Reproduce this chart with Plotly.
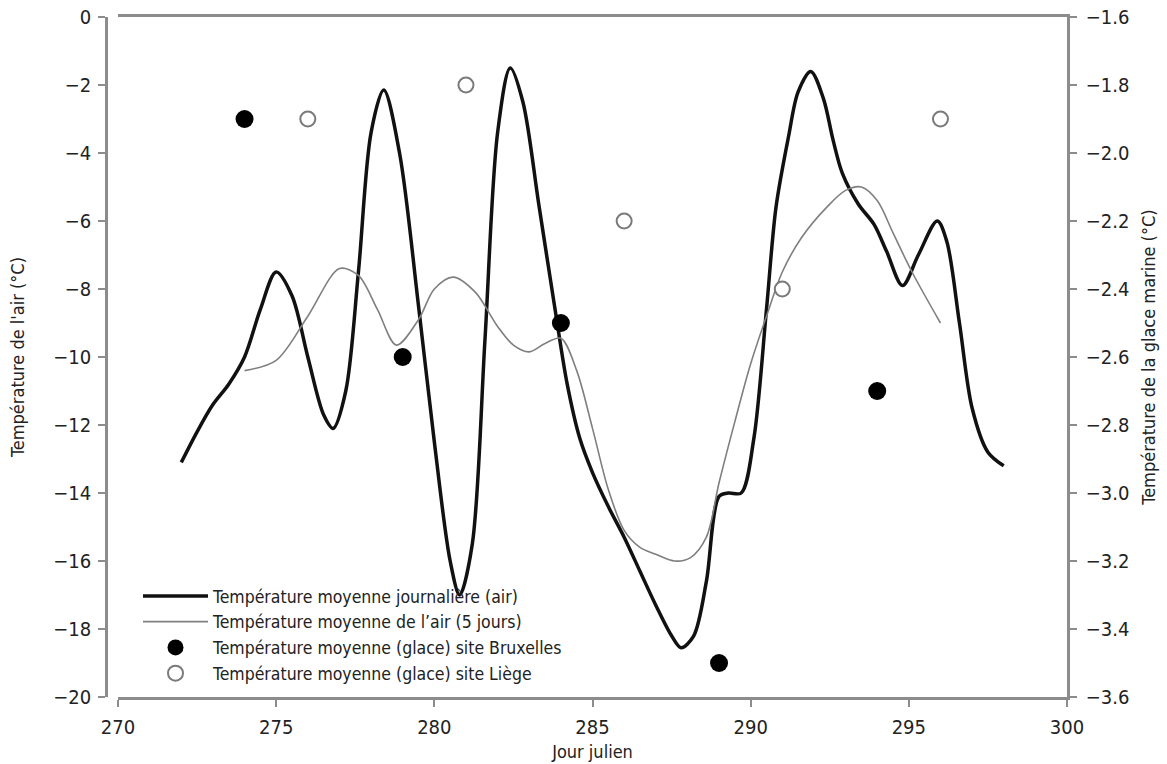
import plotly.graph_objects as go

# --- Data -------------------------------------------------------------
# Daily mean air temperature (left axis, °C)
daily_days = [272, 272.5, 273, 273.5, 274, 274.5, 275, 275.5, 276, 276.5, 276.8,
              277.2, 277.6, 278.0, 278.4, 278.9, 279.5, 280.0, 280.5, 280.8,
              281.2, 281.6, 282.0, 282.4, 282.8, 283.3, 283.8, 284.2, 284.6,
              285.0, 285.5, 286.0, 286.5, 287.0, 287.5, 287.8, 288.2, 288.6,
              289.0, 289.3, 289.7, 290.1, 290.5, 290.8, 291.2, 291.5, 291.9,
              292.3, 292.6, 292.9, 293.4, 293.9, 294.3, 294.8, 295.3, 295.9,
              296.2, 296.6, 297.0, 297.5, 298.0]
daily_temp = [-13.1, -12.2, -11.4, -10.8, -10.0, -8.6, -7.5, -8.2, -10.0, -11.7, -12.1,
              -11.0, -7.5, -3.4, -2.15, -4.0, -8.5, -12.5, -16.0, -17.0,
              -15.5, -9.5, -3.4, -1.5, -2.5, -5.5, -8.5, -10.8, -12.4,
              -13.4, -14.4, -15.3, -16.3, -17.3, -18.2, -18.55, -18.2, -16.6,
              -14.1, -14.0, -14.0, -12.4, -8.6, -5.6, -3.5, -2.2, -1.6,
              -2.4, -3.6, -4.6, -5.5, -6.1, -6.9, -7.9, -7.0, -6.0,
              -6.6, -9.0, -11.5, -12.8, -13.2]

# 5-day mean air temperature (left axis, °C)
mean5_days = [274, 275, 276, 277, 277.6, 278.2, 278.8, 279.5, 280.0, 280.6,
              281.3, 282.0, 282.5, 283.0, 283.5, 284.0, 284.5, 285.0, 285.5,
              286.0, 286.5, 287.0, 287.6, 288.1, 288.6, 289.0, 289.5, 290.0,
              290.5, 291.0, 291.6, 292.4, 293.0, 293.5, 294.0, 294.5, 295.1, 296.0]
mean5_temp = [-10.4, -10.1, -8.8, -7.4, -7.6, -8.6, -9.65, -8.9, -8.0, -7.65,
              -8.1, -9.1, -9.65, -9.85, -9.6, -9.45, -10.4, -12.1, -13.9,
              -15.1, -15.6, -15.8, -16.0, -15.9, -15.3, -13.7, -11.9, -10.2,
              -8.8, -7.5, -6.5, -5.6, -5.1, -5.0, -5.4, -6.35, -7.5, -9.0]

# Mean sea-ice temperature (right axis, °C)
bxl_days = [274, 279, 284, 289, 294]
bxl_temp = [-1.9, -2.6, -2.5, -3.5, -2.7]
liege_days = [276, 281, 286, 291, 296]
liege_temp = [-1.9, -1.8, -2.2, -2.4, -1.9]

x_ticks = [270, 275, 280, 285, 290, 295, 300]
y_left_ticks = [0, -2, -4, -6, -8, -10, -12, -14, -16, -18, -20]
y_right_ticks = [-1.6, -1.8, -2.0, -2.2, -2.4, -2.6, -2.8, -3.0, -3.2, -3.4, -3.6]

# --- Figure -----------------------------------------------------------
FONT = "Liberation Sans Narrow, DejaVu Sans Condensed, Arial Narrow, sans-serif"
AXIS_GREY = "#8c8c8c"
TEXT = "#222222"

fig = go.Figure()
fig.add_trace(go.Scatter(
    x=daily_days, y=daily_temp, mode="lines",
    line=dict(color="#111111", width=3.5, shape="spline", smoothing=0.9),
    name="Température moyenne journalière (air)", yaxis="y"))
fig.add_trace(go.Scatter(
    x=mean5_days, y=mean5_temp, mode="lines",
    line=dict(color="#7f7f7f", width=1.6, shape="spline", smoothing=0.9),
    name="Température moyenne de l’air (5 jours)", yaxis="y"))
fig.add_trace(go.Scatter(
    x=bxl_days, y=bxl_temp, mode="markers",
    marker=dict(color="#000000", size=18, line=dict(width=0)),
    name="Température moyenne (glace) site Bruxelles", yaxis="y2"))
fig.add_trace(go.Scatter(
    x=liege_days, y=liege_temp, mode="markers",
    marker=dict(color="#ffffff", size=15, line=dict(color="#7a7a7a", width=2)),
    name="Température moyenne (glace) site Liège", yaxis="y2"))

axis_common = dict(
    showline=True, linecolor=AXIS_GREY, linewidth=2.5,
    ticks="outside", ticklen=7, tickwidth=2, tickcolor=AXIS_GREY,
    showgrid=False, zeroline=False, automargin=False,
    tickfont=dict(family=FONT, size=20, color=TEXT),
)

fig.update_layout(
    width=1167, height=764,
    margin=dict(l=106, r=100, t=17, b=67),
    paper_bgcolor="white", plot_bgcolor="white",
    font=dict(family=FONT, size=18, color=TEXT),
    showlegend=True,
    legend=dict(
        x=0.0333, y=0.175, xanchor="left", yanchor="top",
        bgcolor="rgba(0,0,0,0)", borderwidth=0,
        itemwidth=65, tracegroupgap=0,
        font=dict(family=FONT, size=17.5, color=TEXT),
    ),
    xaxis=dict(
        domain=[0.0125, 1], range=[270, 300], tickvals=x_ticks,
        mirror=True, ticklabelstandoff=3,
        title=dict(text="Jour julien", font=dict(family=FONT, size=18, color=TEXT), standoff=8),
        **axis_common),
    yaxis=dict(
        anchor="free", position=0, range=[-20, 0], tickvals=y_left_ticks,
        ticklabelstandoff=3,
        title=dict(text="Température de l'air (°C)", font=dict(family=FONT, size=18, color=TEXT), standoff=22),
        **axis_common),
    yaxis2=dict(
        overlaying="y", side="right", anchor="x", range=[-3.6, -1.6],
        tickvals=y_right_ticks, tickformat=".1f", ticklabelstandoff=5,
        title=dict(text="Température de la glace marine (°C)", font=dict(family=FONT, size=18, color=TEXT), standoff=14),
        **axis_common),
)

fig.write_html("out.html")
